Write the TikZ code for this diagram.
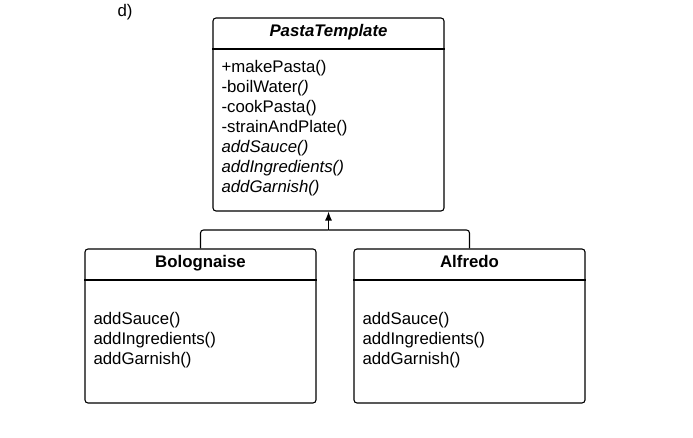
\documentclass[tikz,border=0pt]{standalone}
\usepackage{fontspec}
\setmainfont{Liberation Sans}
\usetikzlibrary{arrows.meta}
\begin{document}
\begin{tikzpicture}[x=1pt,y=-1pt,line width=1.1pt,
  txt/.style={font=\fontsize{16.8}{20}\selectfont,inner sep=0pt},
  classbox/.style={draw,rounded corners=3pt,minimum width=231pt,inner sep=0pt},
  classname/.style={txt,anchor=base,font=\fontsize{16.8}{20}\selectfont\bfseries},
  method/.style={txt,anchor=base west}]
\useasboundingbox[fill=white] (0,0) rectangle (693,438);
\node[txt,anchor=base west] (lbl) at (117,17) {d)};
% abstract class
\node[classbox,minimum height=193pt] (tmpl) at (328.5,114.5) {};
\draw (tmpl.west |- 0,49) -- (tmpl.east |- 0,49);
\node[classname,font=\fontsize{16.8}{20}\selectfont\bfseries\itshape] (tmplname) at (328.5,37) {PastaTemplate};
\foreach \m [count=\i] in {+makePasta(), -boilWater\textit{()}, -cookPasta(), -strainAndPlate(), \textit{addSauce()}, \textit{addIngredients()}, \textit{addGarnish()}}
  \node[method] (tm\i) at (221,53+20*\i) {\m};
% subclasses
\node[classbox,minimum height=154pt] (bol) at (200.5,326) {};
\node[classbox,minimum height=154pt] (alf) at (469.5,326) {};
\draw (bol.west |- 0,280) -- (bol.east |- 0,280);
\draw (alf.west |- 0,280) -- (alf.east |- 0,280);
\node[classname] (bolname) at (200.5,268) {Bolognaise};
\node[classname] (alfname) at (469.5,268) {Alfredo};
\foreach \m [count=\i] in {addSauce(), addIngredients(), addGarnish()} {
  \node[method] (bm\i) at (93,304+20*\i) {\m};
  \node[method] (am\i) at (362,304+20*\i) {\m};
}
% inheritance
\coordinate (j) at (328.5,230);
\draw[rounded corners=3pt] (bol.north) |- (j);
\draw[rounded corners=3pt] (alf.north) |- (j);
\draw[-{Latex[length=9pt,width=7pt]}] (j) -- (tmpl.south);
\end{tikzpicture}
\end{document}
